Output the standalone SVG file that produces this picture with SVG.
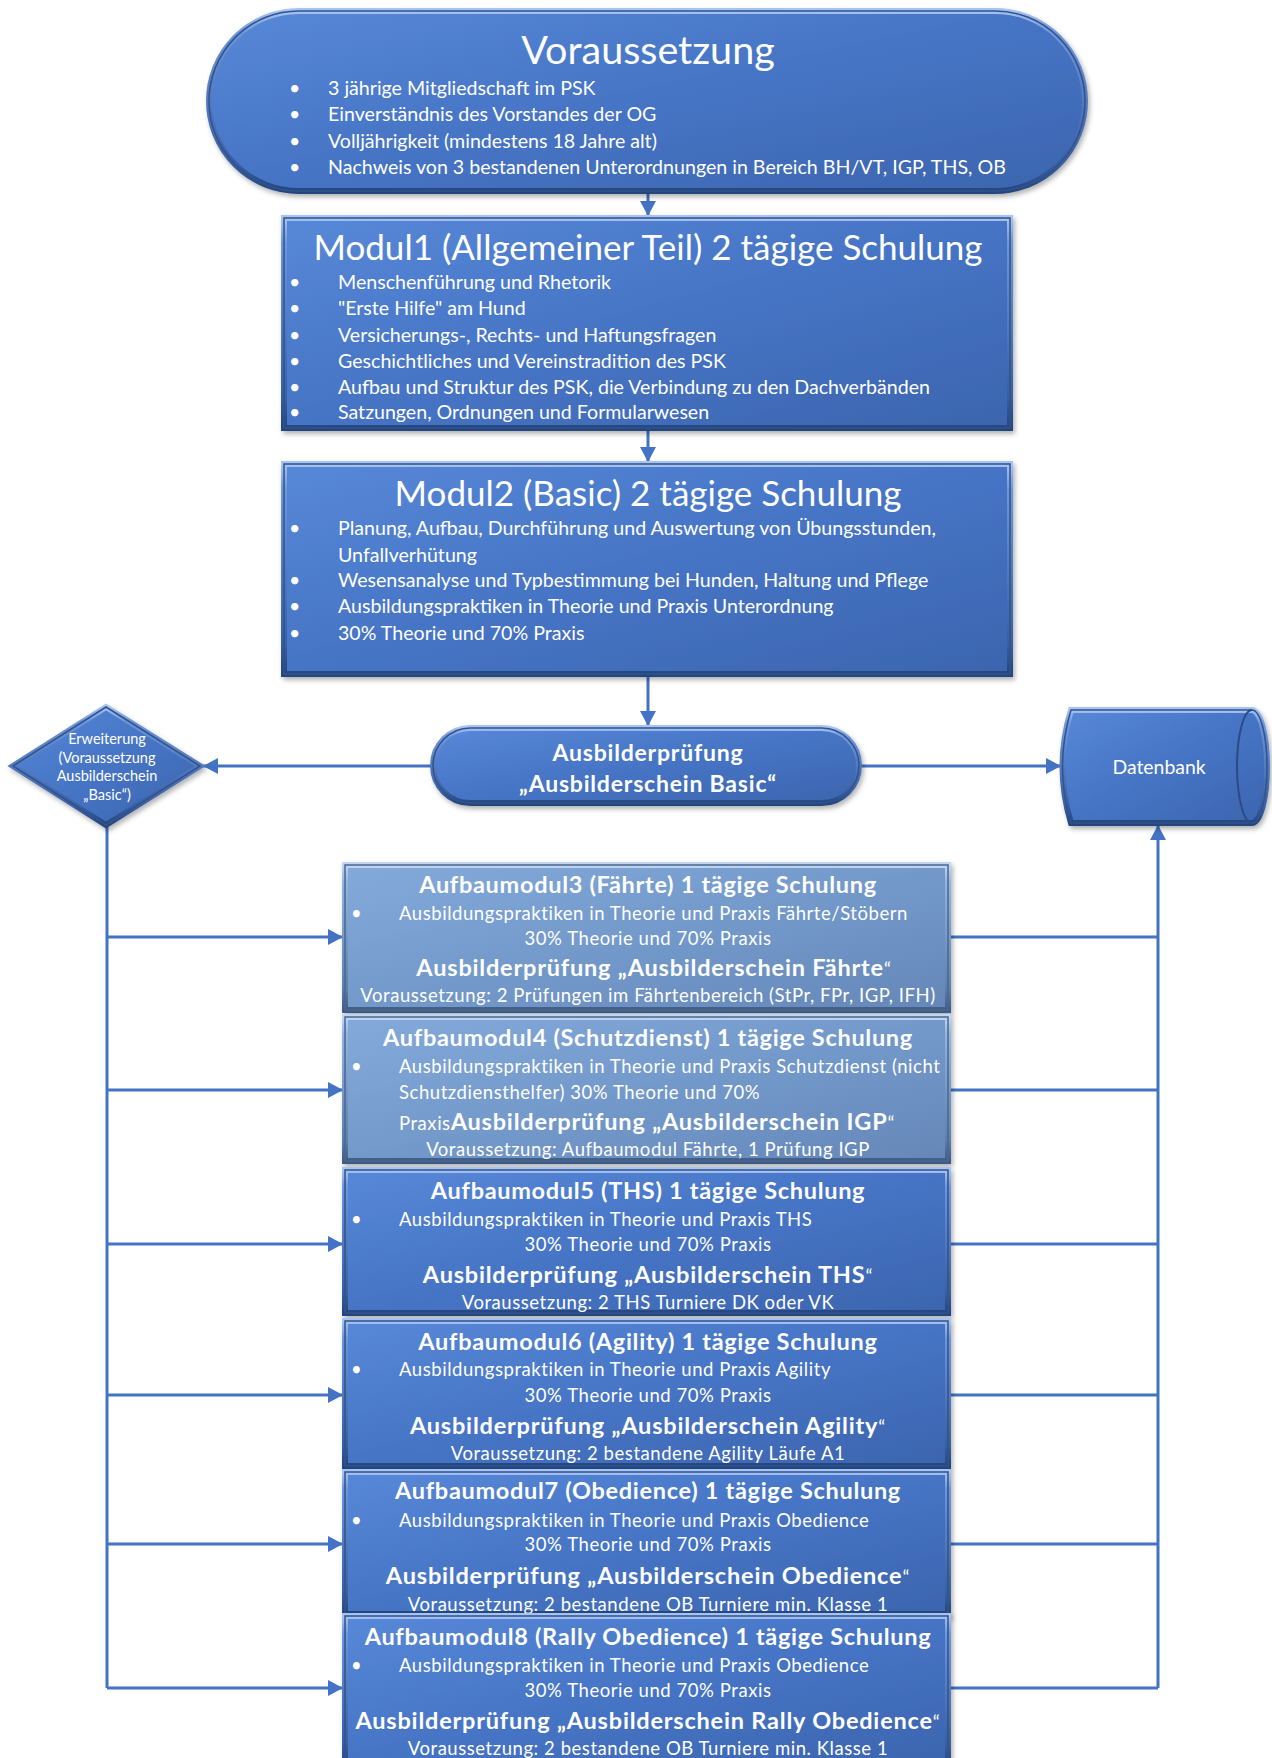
<svg xmlns="http://www.w3.org/2000/svg" width="1272" height="1758" viewBox="0 0 1272 1758">
<defs>
<linearGradient id="gMain" x1="0" y1="0" x2="1" y2="1">
<stop offset="0" stop-color="#5888D8"/><stop offset="0.5" stop-color="#4674C5"/><stop offset="1" stop-color="#3C65AE"/>
</linearGradient>
<linearGradient id="gLight" x1="0" y1="0" x2="1" y2="1">
<stop offset="0" stop-color="#84AADC"/><stop offset="0.5" stop-color="#7399CB"/><stop offset="1" stop-color="#6587B8"/>
</linearGradient>
<linearGradient id="gEdge" x1="0" y1="0" x2="0" y2="1">
<stop offset="0" stop-color="#A7C3F1"/><stop offset="0.12" stop-color="#6E96DB"/><stop offset="0.85" stop-color="#3A5FA3"/><stop offset="1" stop-color="#24467F"/>
</linearGradient>
<linearGradient id="gEdgeLight" x1="0" y1="0" x2="0" y2="1">
<stop offset="0" stop-color="#C2D6F2"/><stop offset="0.12" stop-color="#93B5E2"/><stop offset="0.85" stop-color="#5F80AE"/><stop offset="1" stop-color="#3F5C86"/>
</linearGradient>
<filter id="sh" x="-5%" y="-10%" width="112%" height="125%">
<feDropShadow dx="2" dy="3" stdDeviation="2.5" flood-color="#000" flood-opacity="0.3"/>
</filter>
<marker id="arr" markerUnits="userSpaceOnUse" markerWidth="16" markerHeight="16" refX="15" refY="8" orient="auto">
<path d="M0,0 L15,8 L0,16 Z" fill="#4472C4"/>
</marker>
</defs>
<style>
.shape{fill:url(#gMain);stroke:url(#gEdge);stroke-width:6;filter:url(#sh)}
.shapeL{fill:url(#gLight);stroke:url(#gEdgeLight);stroke-width:6;filter:url(#sh)}
.outl{fill:none;stroke:#31538C;stroke-width:1.5}
.outlL{fill:none;stroke:#4A6790;stroke-width:1.5}
.con{fill:none;stroke:#4472C4;stroke-width:3}
.arr{marker-end:url(#arr)}
text{font-family:Lato,"Open Sans","Liberation Sans",sans-serif;fill:#FFFFFF}
.t1{font-size:39.5px}
.t2{font-size:35px}
.b{font-size:19.6px}
.mt{font-size:23.5px;font-weight:bold;text-anchor:middle;letter-spacing:0.7px}
.mb{font-size:18.5px;letter-spacing:0.55px}
.mc{font-size:18.5px;text-anchor:middle;letter-spacing:0.55px}
.mx{font-size:23.5px;font-weight:bold;text-anchor:middle;letter-spacing:0.8px}
.q{font-weight:normal;font-size:19px}
.c{text-anchor:middle}
.pb{font-size:23px;font-weight:bold;letter-spacing:0.8px}
.dt{font-size:14.5px}
</style>

<g id="connectors">
<path class="con arr" d="M648,193 V216"/>
<path class="con arr" d="M648,430 V462"/>
<path class="con arr" d="M648,676 V726"/>
<path class="con arr" d="M431,766 H203"/>
<path class="con arr" d="M861,766 H1061"/>
<path class="con" d="M107,827 V1688"/>
<path class="con arr" d="M107,937 H343"/>
<path class="con arr" d="M107,1090 H343"/>
<path class="con arr" d="M107,1244 H343"/>
<path class="con arr" d="M107,1395 H343"/>
<path class="con arr" d="M107,1544 H343"/>
<path class="con arr" d="M107,1688 H343"/>
<path class="con" d="M950,937 H1158"/>
<path class="con" d="M950,1090 H1158"/>
<path class="con" d="M950,1244 H1158"/>
<path class="con" d="M950,1395 H1158"/>
<path class="con" d="M950,1544 H1158"/>
<path class="con" d="M950,1688 H1158"/>
<path class="con arr" d="M1158,1688 V825"/>
</g>

<g id="voraussetzung">
<rect class="shape" x="209" y="11" width="876" height="180" rx="90"/>
<rect class="outl" x="209" y="11" width="876" height="180" rx="90"/>
<text class="t1 c" x="648" y="64">Voraussetzung</text>
<text class="b" x="289" y="95">•</text><text class="b" x="328" y="95">3 jährige Mitgliedschaft im PSK</text>
<text class="b" x="289" y="121">•</text><text class="b" x="328" y="121">Einverständnis des Vorstandes der OG</text>
<text class="b" x="289" y="148">•</text><text class="b" x="328" y="148">Volljährigkeit (mindestens 18 Jahre alt)</text>
<text class="b" x="289" y="174">•</text><text class="b" x="328" y="174">Nachweis von 3 bestandenen Unterordnungen in Bereich BH/VT, IGP, THS, OB</text>
</g>

<g id="modul1">
<rect class="shape" x="284" y="218" width="726" height="210"/>
<rect class="outl" x="284" y="218" width="726" height="210"/>
<text class="t2 c" x="648" y="260">Modul1 (Allgemeiner Teil) 2 tägige Schulung</text>
<text class="b" x="289" y="289">•</text><text class="b" x="338" y="289">Menschenführung und Rhetorik</text>
<text class="b" x="289" y="315">•</text><text class="b" x="338" y="315">"Erste Hilfe" am Hund</text>
<text class="b" x="289" y="342">•</text><text class="b" x="338" y="342">Versicherungs-, Rechts- und Haftungsfragen</text>
<text class="b" x="289" y="368">•</text><text class="b" x="338" y="368">Geschichtliches und Vereinstradition des PSK</text>
<text class="b" x="289" y="394">•</text><text class="b" x="338" y="394">Aufbau und Struktur des PSK, die Verbindung zu den Dachverbänden</text>
<text class="b" x="289" y="419">•</text><text class="b" x="338" y="419">Satzungen, Ordnungen und Formularwesen</text>
</g>

<g id="modul2">
<rect class="shape" x="284" y="464" width="726" height="210"/>
<rect class="outl" x="284" y="464" width="726" height="210"/>
<text class="t2 c" x="648" y="506">Modul2 (Basic) 2 tägige Schulung</text>
<text class="b" x="289" y="535">•</text><text class="b" x="338" y="535">Planung, Aufbau, Durchführung und Auswertung von Übungsstunden,</text>
<text class="b" x="338" y="562">Unfallverhütung</text>
<text class="b" x="289" y="587">•</text><text class="b" x="338" y="587">Wesensanalyse und Typbestimmung bei Hunden, Haltung und Pflege</text>
<text class="b" x="289" y="613">•</text><text class="b" x="338" y="613">Ausbildungspraktiken in Theorie und Praxis Unterordnung</text>
<text class="b" x="289" y="640">•</text><text class="b" x="338" y="640">30% Theorie und 70% Praxis</text>
</g>

<g id="pruefung-basic">
<rect class="shape" x="433" y="728" width="426" height="75" rx="37.5"/>
<rect class="outl" x="433" y="728" width="426" height="75" rx="37.5"/>
<text class="pb c" x="648" y="761">Ausbilderprüfung</text>
<text class="pb c" x="648" y="792">„Ausbilderschein Basic“</text>
</g>

<g id="erweiterung">
<path class="shape" d="M106,707 L200,766 L106,825 L13,766 Z"/>
<path class="outl" d="M106,707 L200,766 L106,825 L13,766 Z"/>
<text class="dt c" x="107" y="744">Erweiterung</text>
<text class="dt c" x="107" y="763">(Voraussetzung</text>
<text class="dt c" x="107" y="781">Ausbilderschein</text>
<text class="dt c" x="107" y="800">„Basic“)</text>
</g>

<g id="datenbank">
<path class="shape" d="M1071,710 L1252,710 A15,56.5 0 0 1 1252,823 L1071,823 Q1054,766.5 1071,710 Z"/>
<path class="outl" d="M1071,710 L1252,710 A15,56.5 0 0 1 1252,823 L1071,823 Q1054,766.5 1071,710 Z"/>
<path d="M1252,710 A15,56.5 0 0 0 1252,823" fill="none" stroke="#2A4B84" stroke-width="2"/>
<text class="c" x="1159" y="774" style="font-size:19.4px">Datenbank</text>
</g>

<g id="aufbaumodul3">
<rect class="shapeL" x="345" y="865" width="603" height="145"/>
<rect class="outlL" x="345" y="865" width="603" height="145"/>
<text class="mt" x="648" y="893">Aufbaumodul3 (Fährte) 1 tägige Schulung</text>
<text class="mb" x="351" y="920">•</text><text class="mb" x="399" y="920">Ausbildungspraktiken in Theorie und Praxis Fährte/Stöbern</text>
<text class="mc" x="648" y="945">30% Theorie und 70% Praxis</text>
<text class="mx" x="654" y="976">Ausbilderprüfung „Ausbilderschein Fährte<tspan class="q">“</tspan></text>
<text class="mc" x="648" y="1002">Voraussetzung: 2 Prüfungen im Fährtenbereich (StPr, FPr, IGP, IFH)</text>
</g>

<g id="aufbaumodul4">
<rect class="shapeL" x="345" y="1017" width="603" height="144"/>
<rect class="outlL" x="345" y="1017" width="603" height="144"/>
<text class="mt" x="648" y="1046">Aufbaumodul4 (Schutzdienst) 1 tägige Schulung</text>
<text class="mb" x="351" y="1073">•</text><text class="mb" x="399" y="1073">Ausbildungspraktiken in Theorie und Praxis Schutzdienst (nicht</text>
<text class="mb" x="399" y="1099">Schutzdiensthelfer) 30% Theorie und 70%</text>
<text class="mb" x="399" y="1130">Praxis<tspan style="font-size:23.5px;font-weight:bold;letter-spacing:0.8px">Ausbilderprüfung „Ausbilderschein IGP</tspan><tspan style="font-size:19px">“</tspan></text>
<text class="mc" x="648" y="1156">Voraussetzung: Aufbaumodul Fährte, 1 Prüfung IGP</text>
</g>

<g id="aufbaumodul5">
<rect class="shape" x="345" y="1170" width="603" height="143"/>
<rect class="outl" x="345" y="1170" width="603" height="143"/>
<text class="mt" x="648" y="1199">Aufbaumodul5 (THS) 1 tägige Schulung</text>
<text class="mb" x="351" y="1226">•</text><text class="mb" x="399" y="1226">Ausbildungspraktiken in Theorie und Praxis THS</text>
<text class="mc" x="648" y="1251">30% Theorie und 70% Praxis</text>
<text class="mx" x="648" y="1283">Ausbilderprüfung „Ausbilderschein THS<tspan class="q">“</tspan></text>
<text class="mc" x="648" y="1309">Voraussetzung: 2 THS Turniere DK oder VK</text>
</g>

<g id="aufbaumodul6">
<rect class="shape" x="345" y="1321" width="603" height="145"/>
<rect class="outl" x="345" y="1321" width="603" height="145"/>
<text class="mt" x="648" y="1350">Aufbaumodul6 (Agility) 1 tägige Schulung</text>
<text class="mb" x="351" y="1376">•</text><text class="mb" x="399" y="1376">Ausbildungspraktiken in Theorie und Praxis Agility</text>
<text class="mc" x="648" y="1402">30% Theorie und 70% Praxis</text>
<text class="mx" x="648" y="1434">Ausbilderprüfung „Ausbilderschein Agility<tspan class="q">“</tspan></text>
<text class="mc" x="648" y="1460">Voraussetzung: 2 bestandene Agility Läufe A1</text>
</g>

<g id="aufbaumodul7">
<rect class="shape" x="345" y="1472" width="603" height="142"/>
<rect class="outl" x="345" y="1472" width="603" height="142"/>
<text class="mt" x="648" y="1499">Aufbaumodul7 (Obedience) 1 tägige Schulung</text>
<text class="mb" x="351" y="1527">•</text><text class="mb" x="399" y="1527">Ausbildungspraktiken in Theorie und Praxis Obedience</text>
<text class="mc" x="648" y="1551">30% Theorie und 70% Praxis</text>
<text class="mx" x="648" y="1584">Ausbilderprüfung „Ausbilderschein Obedience<tspan class="q">“</tspan></text>
<text class="mc" x="648" y="1611">Voraussetzung: 2 bestandene OB Turniere min. Klasse 1</text>
</g>

<g id="aufbaumodul8">
<rect class="shape" x="345" y="1616" width="603" height="150"/>
<rect class="outl" x="345" y="1616" width="603" height="150"/>
<text class="mt" x="648" y="1645">Aufbaumodul8 (Rally Obedience) 1 tägige Schulung</text>
<text class="mb" x="351" y="1672">•</text><text class="mb" x="399" y="1672">Ausbildungspraktiken in Theorie und Praxis Obedience</text>
<text class="mc" x="648" y="1697">30% Theorie und 70% Praxis</text>
<text class="mx" x="648" y="1729">Ausbilderprüfung „Ausbilderschein Rally Obedience<tspan class="q">“</tspan></text>
<text class="mc" x="648" y="1755">Voraussetzung: 2 bestandene OB Turniere min. Klasse 1</text>
</g>
</svg>
